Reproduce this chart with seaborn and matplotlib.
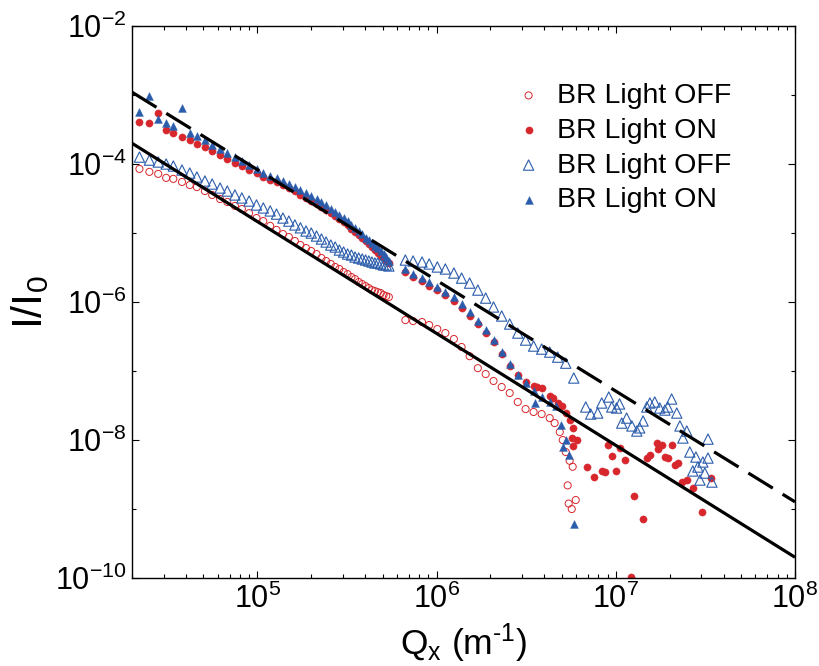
"""
Log-log scattering curves, BR light OFF / ON, with power-law guide lines.
"""

import numpy as np
import pandas as pd
import matplotlib
matplotlib.use("Agg")
import matplotlib.pyplot as plt
import seaborn as sns
from matplotlib.ticker import FixedLocator, LogLocator, NullFormatter

# ── Data ───────────────────────────────────────────────────────────────────
# first detector range (shared Q grid, m^-1)
Q_SEG1 = [2.2e4, 2.5e4, 2.8e4, 3.1e4, 3.4e4, 3.8e4, 4.2e4, 4.6e4, 5.1e4, 5.6e4,
          6.2e4, 6.8e4, 7.5e4, 8.2e4, 9.0e4, 9.9e4, 1.08e5, 1.18e5, 1.28e5, 1.39e5,
          1.50e5, 1.62e5, 1.74e5, 1.87e5, 2.00e5, 2.14e5, 2.28e5, 2.42e5, 2.57e5, 2.72e5,
          2.87e5, 3.03e5, 3.19e5, 3.35e5, 3.51e5, 3.68e5, 3.85e5, 4.02e5, 4.19e5, 4.36e5,
          4.53e5, 4.70e5, 4.88e5, 5.06e5, 5.24e5, 5.42e5]
# second detector range
Q_SEG2 = [6.7e5, 7.4e5, 8.3e5, 9.1e5, 1.01e6, 1.12e6, 1.25e6, 1.38e6, 1.53e6, 1.70e6,
          1.88e6, 2.08e6, 2.31e6, 2.56e6, 2.84e6, 3.14e6, 3.48e6, 3.86e6, 4.28e6, 4.74e6,
          5.26e6, 5.83e6]

# red, light OFF (open circles)
RED_OFF_1 = [8.5e-5, 7.7e-5, 7.2e-5, 6.3e-5, 6.1e-5, 5.5e-5, 4.96e-5, 4.64e-5, 4.06e-5, 3.56e-5,
             3.11e-5, 2.82e-5, 2.47e-5, 2.23e-5, 1.94e-5, 1.65e-5, 1.49e-5, 1.27e-5, 1.11e-5, 9.67e-6,
             8.75e-6, 7.66e-6, 6.70e-6, 6.06e-6, 5.48e-6, 4.96e-6, 4.34e-6, 3.93e-6, 3.56e-6, 3.22e-6,
             3.01e-6, 2.72e-6, 2.54e-6, 2.30e-6, 2.15e-6, 1.95e-6, 1.82e-6, 1.70e-6, 1.59e-6, 1.49e-6,
             1.44e-6, 1.39e-6, 1.35e-6, 1.26e-6, 1.22e-6, 1.18e-6]
RED_OFF_2 = [5.48e-7, 5.30e-7, 5.13e-7, 4.64e-7, 4.06e-7, 3.55e-7, 2.91e-7, 2.23e-7, 1.64e-7, 1.10e-7,
             9.04e-8, 7.17e-8, 5.87e-8, 4.80e-8, 3.56e-8, 2.81e-8, 2.55e-8, 2.38e-8, 2.08e-8]
RED_OFF_TAIL_Q = [4.56e6, 4.87e6, 5.06e6, 5.26e6, 5.53e6, 5.75e6, 5.39e6, 5.46e6, 5.68e6, 5.98e6]
RED_OFF_TAIL_I = [1.76e-8, 1.31e-8, 1.0e-8, 6.7e-9, 5.0e-9, 4.1e-9, 2.2e-9, 1.2e-9, 1.0e-9, 1.35e-9]

# red, light ON (filled circles)
RED_ON_1 = [4.06e-4, 3.93e-4, 5.48e-4, 3.11e-4, 2.81e-4, 2.46e-4, 2.23e-4, 1.94e-4, 1.76e-4, 1.54e-4,
            1.35e-4, 1.18e-4, 1.03e-4, 9.35e-5, 8.18e-5, 7.40e-5, 6.49e-5, 5.87e-5, 5.49e-5, 4.96e-5,
            4.49e-5, 4.06e-5, 3.56e-5, 3.22e-5, 2.91e-5, 2.64e-5, 2.39e-5, 2.16e-5, 1.94e-5, 1.76e-5,
            1.59e-5, 1.44e-5, 1.31e-5, 1.15e-5, 1.04e-5, 9.35e-6, 8.46e-6, 7.66e-6, 6.93e-6, 6.27e-6,
            5.67e-6, 5.13e-6, 4.64e-6, 4.34e-6, 3.93e-6, 3.68e-6]
RED_ON_2 = [2.72e-6, 2.30e-6, 2.01e-6, 1.70e-6, 1.49e-6, 1.26e-6, 1.03e-6, 8.18e-7, 6.27e-7, 4.80e-7,
            3.55e-7, 2.63e-7, 1.76e-7, 1.18e-7, 8.74e-8, 6.94e-8, 6.06e-8, 5.67e-8, 4.34e-8, 3.44e-8,
            2.46e-8]
RED_ON_TAIL_Q = [3.62e6, 4.45e6, 4.99e6, 5.53e6, 5.75e6, 5.68e6, 6.05e6, 5.75e6, 6.89e6, 7.54e6,
                 8.35e6, 8.68e6, 1.0e7, 9.02e6, 1.05e7, 9.50e6, 1.12e7, 1.26e7, 1.42e7, 1.55e7,
                 1.49e7, 1.69e7, 1.81e7, 1.72e7, 1.88e7, 1.95e7, 2.05e7, 2.14e7, 2.22e7, 2.34e7,
                 2.49e7, 2.69e7, 3.02e7, 3.39e7, 1.21e7]
RED_ON_TAIL_I = [5.87e-8, 4.06e-8, 3.11e-8, 1.95e-8, 1.50e-8, 1.07e-8, 1.0e-8, 8.19e-9, 4.06e-9, 2.91e-9,
                 3.56e-9, 3.44e-9, 3.56e-9, 8.47e-9, 7.65e-9, 5.86e-9, 5.13e-9, 1.54e-9, 7.17e-10, 6.06e-9,
                 5.48e-9, 9.05e-9, 8.47e-9, 7.40e-9, 5.67e-9, 5.48e-9, 8.47e-9, 4.34e-9, 4.64e-9, 2.46e-9,
                 2.63e-9, 2.01e-9, 9.05e-10, 2.81e-9, 1.03e-10]

# blue, light OFF (open triangles)
BLUE_OFF_1 = [1.26e-4, 1.14e-4, 1.07e-4, 1.0e-4, 9.35e-5, 8.18e-5, 7.40e-5, 6.49e-5, 5.68e-5, 5.13e-5,
              4.49e-5, 4.06e-5, 3.56e-5, 3.22e-5, 2.91e-5, 2.55e-5, 2.31e-5, 2.09e-5, 1.88e-5, 1.65e-5,
              1.49e-5, 1.31e-5, 1.19e-5, 1.07e-5, 9.99e-6, 9.04e-6, 8.19e-6, 7.41e-6, 6.70e-6, 6.27e-6,
              5.67e-6, 5.31e-6, 4.96e-6, 4.80e-6, 4.49e-6, 4.34e-6, 4.20e-6, 4.06e-6, 3.93e-6, 3.80e-6,
              3.68e-6, 3.68e-6, 3.56e-6, 3.44e-6, 3.44e-6, 3.33e-6]
BLUE_OFF_2 = [4.06e-6, 3.93e-6, 3.80e-6, 3.56e-6, 3.22e-6, 3.01e-6, 2.63e-6, 2.22e-6, 1.88e-6, 1.49e-6,
              1.14e-6, 8.47e-7, 6.27e-7, 4.80e-7, 3.55e-7, 2.81e-7, 2.30e-7, 2.08e-7, 1.88e-7, 1.59e-7,
              1.30e-7, 7.92e-8]
BLUE_OFF_TAIL_Q = [6.80e6, 7.25e6, 7.93e6, 8.35e6, 9.14e6, 9.50e6, 1.01e7, 1.05e7, 1.08e7, 1.15e7,
                   1.23e7, 1.31e7, 1.36e7, 1.42e7, 1.49e7, 1.55e7, 1.65e7, 1.76e7, 1.88e7, 1.95e7,
                   2.05e7, 2.19e7, 2.28e7, 2.49e7, 2.37e7, 2.59e7, 2.80e7, 2.69e7, 3.06e7, 3.14e7,
                   3.27e7, 3.27e7, 3.44e7, 2.95e7, 2.87e7]
BLUE_OFF_TAIL_I = [3.01e-8, 2.38e-8, 2.46e-8, 3.44e-8, 4.20e-8, 3.01e-8, 2.91e-8, 3.33e-8, 1.76e-8, 2.08e-8,
                   1.60e-8, 1.35e-8, 1.50e-8, 1.89e-8, 3.01e-8, 3.44e-8, 3.56e-8, 2.91e-8, 2.72e-8, 3.01e-8,
                   3.93e-8, 2.46e-8, 1.60e-8, 1.35e-8, 1.07e-8, 6.70e-9, 5.67e-9, 3.56e-9, 4.80e-9, 3.32e-9,
                   1.03e-8, 5.48e-9, 2.46e-9, 2.63e-9, 4.06e-9]

# blue, light ON (filled triangles)
BLUE_ON_1 = [5.67e-4, 9.67e-4, 4.49e-4, 3.93e-4, 3.56e-4, 6.47e-4, 2.81e-4, 2.54e-4, 2.23e-4, 1.88e-4,
             1.64e-4, 1.44e-4, 1.26e-4, 1.10e-4, 9.67e-5, 8.46e-5, 7.40e-5, 6.70e-5, 6.27e-5, 5.68e-5,
             5.13e-5, 4.64e-5, 4.20e-5, 3.80e-5, 3.44e-5, 3.11e-5, 2.82e-5, 2.55e-5, 2.23e-5, 2.02e-5,
             1.82e-5, 1.65e-5, 1.49e-5, 1.31e-5, 1.19e-5, 1.07e-5, 9.67e-6, 8.46e-6, 7.92e-6, 7.16e-6,
             6.48e-6, 6.06e-6, 5.48e-6, 4.96e-6, 4.49e-6, 3.93e-6]
BLUE_ON_2 = [3.01e-6, 2.54e-6, 2.22e-6, 1.95e-6, 1.65e-6, 1.39e-6, 1.18e-6, 9.36e-7, 7.17e-7, 5.30e-7,
             3.93e-7, 2.81e-7, 1.88e-7, 1.26e-7, 8.74e-8, 6.70e-8, 5.13e-8, 4.20e-8, 3.56e-8]
BLUE_ON_TAIL_Q = [3.53e6, 4.62e6, 4.93e6, 5.06e6, 5.26e6, 5.46e6, 5.83e6]
BLUE_ON_TAIL_I = [3.44e-8, 3.11e-8, 1.65e-8, 7.93e-9, 1.0e-8, 6.06e-9, 6.07e-10]

# power-law guide lines (end points)
FIT_Q = [2e4, 1e8]
FIT_SOLID_I = [2.0e-4, 2.0e-10]
FIT_DASHED_I = [1.1e-3, 1.27e-9]

LABELS = ["BR Light OFF", "BR Light ON", "BR Light OFF", "BR Light ON"]
RED = "#d7262c"
BLUE = "#2b5cab"


def build(i1, i2, q_tail, i_tail):
    q = Q_SEG1[:len(i1)] + Q_SEG2[:len(i2)] + q_tail
    i = i1 + i2 + i_tail
    return pd.DataFrame({"Q": q, "I": i})


frames = [
    build(RED_OFF_1, RED_OFF_2, RED_OFF_TAIL_Q, RED_OFF_TAIL_I),
    build(RED_ON_1, RED_ON_2, RED_ON_TAIL_Q, RED_ON_TAIL_I),
    build(BLUE_OFF_1, BLUE_OFF_2, BLUE_OFF_TAIL_Q, BLUE_OFF_TAIL_I),
    build(BLUE_ON_1, BLUE_ON_2, BLUE_ON_TAIL_Q, BLUE_ON_TAIL_I),
]

# ── Style ──────────────────────────────────────────────────────────────────
sns.set_theme(style="ticks")
plt.rcParams["font.family"] = ["Liberation Sans", "DejaVu Sans"]
plt.rcParams["mathtext.fontset"] = "custom"
plt.rcParams["mathtext.rm"] = "Liberation Sans"
plt.rcParams["mathtext.it"] = "Liberation Sans:italic"
plt.rcParams["mathtext.bf"] = "Liberation Sans:bold"
plt.rcParams["axes.linewidth"] = 1.0
for key in ["text.color", "axes.labelcolor", "xtick.color", "ytick.color",
            "xtick.labelcolor", "ytick.labelcolor", "axes.edgecolor"]:
    plt.rcParams[key] = "black"

fig = plt.figure(figsize=(8.2, 6.66), dpi=100)
ax = fig.add_axes([0.161, 0.1321, 0.8085, 0.8288])

styles = [
    dict(marker="o", s=26, facecolor="none", edgecolor=RED, linewidth=0.7),
    dict(marker="o", s=27, color=RED, edgecolor=RED, linewidth=0.3),
    dict(marker="^", s=55, facecolor="none", edgecolor=BLUE, linewidth=0.8),
    dict(marker="^", s=32, color=BLUE, edgecolor=BLUE, linewidth=0.3),
]
for df, lab, st in zip(frames, LABELS, styles):
    sns.scatterplot(data=df, x="Q", y="I", ax=ax, label=lab, zorder=2, **st)

ax.plot(FIT_Q, FIT_SOLID_I, color="black", lw=2.3, zorder=3, solid_capstyle="butt")
ax.plot(FIT_Q, FIT_DASHED_I, color="black", lw=2.3, zorder=3,
        linestyle=(0, (9, 3.6)), dash_capstyle="butt")

ax.set_xscale("log")
ax.set_yscale("log")
ax.set_xlim(2e4, 1e8)
ax.set_ylim(1e-10, 1e-2)

ax.set_xticks([1e5, 1e6, 1e7, 1e8],
              labels=[r"$10^{5}$", r"$10^{6}$", r"$10^{7}$", r"$10^{8}$"])
ax.xaxis.set_minor_locator(LogLocator(base=10, subs=np.arange(2, 10)))
ax.xaxis.set_minor_formatter(NullFormatter())
ax.set_yticks([1e-2, 1e-4, 1e-6, 1e-8, 1e-10],
              labels=[r"$10^{-2}$", r"$10^{-4}$", r"$10^{-6}$", r"$10^{-8}$", r"$10^{-10}$"])
ax.yaxis.set_minor_locator(FixedLocator([1e-3, 1e-5, 1e-7, 1e-9]))
ax.yaxis.set_minor_formatter(NullFormatter())

ax.tick_params(which="both", direction="in", top=True, right=True,
               colors="black", labelcolor="black", labelsize=22, width=0.8)
ax.tick_params(which="major", length=5, pad=4)
ax.tick_params(which="minor", length=3)
for sp in ax.spines.values():
    sp.set_color("black")

ax.set_xlabel(r"Q$_\mathrm{x}$ (m$^{\text{-1}}$)", fontsize=25.5, labelpad=5, color="black")
ax.set_ylabel(r"I/I$_\mathrm{0}$", fontsize=31, labelpad=3, color="black")

leg = ax.legend(loc="upper left", bbox_to_anchor=(0.581, 0.897), frameon=False,
                fontsize=20.5, handlelength=0.8, handletextpad=0.6, labelspacing=0.31,
                borderpad=0, borderaxespad=0)
for txt in leg.get_texts():
    txt.set_color("black")

fig.savefig("out.png", dpi=100)
